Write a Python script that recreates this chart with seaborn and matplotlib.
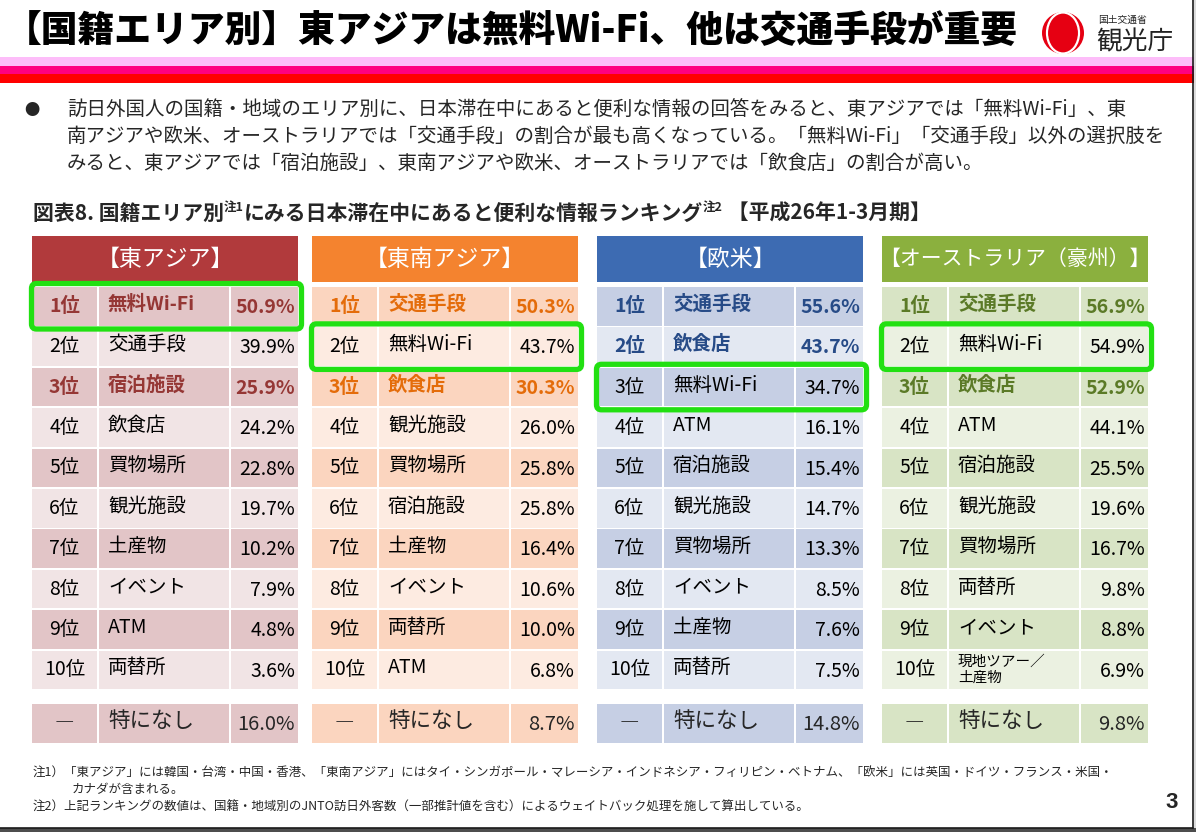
import numpy as np
import matplotlib
matplotlib.use("Agg")
import matplotlib.pyplot as plt
from matplotlib.patches import Circle, Ellipse, FancyBboxPatch, Rectangle
import seaborn as sns

sns.set_theme(style="white")
plt.rcParams['font.family'] = ['Noto Sans CJK JP', 'DejaVu Sans']

# ---- data ----
areas = ['【東アジア】', '【東南アジア】', '【欧米】', '【オーストラリア（豪州）】']
ranks = ['1位', '2位', '3位', '4位', '5位', '6位', '7位', '8位', '9位', '10位']

ea_items = ['無料Wi-Fi', '交通手段', '宿泊施設', '飲食店', '買物場所', '観光施設', '土産物', 'イベント', 'ATM', '両替所']
ea_vals = [50.9, 39.9, 25.9, 24.2, 22.8, 19.7, 10.2, 7.9, 4.8, 3.6]
ea_none = 16.0

sea_items = ['交通手段', '無料Wi-Fi', '飲食店', '観光施設', '買物場所', '宿泊施設', '土産物', 'イベント', '両替所', 'ATM']
sea_vals = [50.3, 43.7, 30.3, 26.0, 25.8, 25.8, 16.4, 10.6, 10.0, 6.8]
sea_none = 8.7

eu_items = ['交通手段', '飲食店', '無料Wi-Fi', 'ATM', '宿泊施設', '観光施設', '買物場所', 'イベント', '土産物', '両替所']
eu_vals = [55.6, 43.7, 34.7, 16.1, 15.4, 14.7, 13.3, 8.5, 7.6, 7.5]
eu_none = 14.8

au_items = ['交通手段', '無料Wi-Fi', '飲食店', 'ATM', '宿泊施設', '観光施設', '買物場所', '両替所', 'イベント', '現地ツアー／\n土産物']
au_vals = [56.9, 54.9, 52.9, 44.1, 25.5, 19.6, 16.7, 9.8, 8.8, 6.9]
au_none = 9.8

bold_rows = [[0, 2], [0, 2], [0, 1], [0, 2]]

# header, dark band, light band, emphasis text
palettes = [
    ('#B13A3C', '#E2C5C7', '#F1E4E5', '#953735'),
    ('#F4832F', '#FBD5BF', '#FDEBE1', '#E46C0A'),
    ('#3D6BB2', '#C6CFE4', '#E3E8F2', '#274B87'),
    ('#8BB03E', '#D8E4C5', '#EBF1E1', '#5B7A27'),
]

items_all = [ea_items, sea_items, eu_items, au_items]
vals_all = [ea_vals, sea_vals, eu_vals, au_vals]
none_all = [ea_none, sea_none, eu_none, au_none]

# ---- layout (pixels) ----
W, H = 1196, 832
panel_left = [32, 312, 597, 882]
panel_w = 266
col_left = [0, 67, 199]
col_w = [65, 130, 67]
pitch = 40.4
row0_c = 306.25          # centre of first row
row_h = 38.5 / pitch
top_px, bot_px = 236, 743
none_y = (723.5 - row0_c) / pitch
head_y = (259 - row0_c) / pitch
head_h = 46 / pitch
head_fs = [16.5, 16.5, 16.5, 15]
green = '#22E012'

fig = plt.figure(figsize=(W / 100, H / 100), dpi=100)
ax0 = fig.add_axes([0, 0, 1, 1])
ax0.set_xlim(0, W)
ax0.set_ylim(H, 0)
ax0.axis('off')

# top band
ax0.axhspan(57, 65.5, color='#FDBDF9', lw=0)
ax0.axhspan(65.5, 74, color='#FF0080', lw=0)
ax0.axhspan(74, 82.5, color='#FF0000', lw=0)

ax0.text(5, 31, '【国籍エリア別】東アジアは無料Wi-Fi、他は交通手段が重要',
         fontsize=26.5, weight='heavy', va='center', ha='left', color='black')

# logo
ax0.add_patch(Circle((1063, 33), 21, color='#E60012', lw=0))
ax0.add_patch(Ellipse((1063, 33), 32, 41, fill=False, ec='white', lw=1.6))
ax0.add_patch(Circle((1063, 33), 14.5, color='#E60012', lw=0))
ax0.text(1098, 20, '国土交通省', fontsize=7, va='center', ha='left', color='#222222')
ax0.text(1096, 42, '観光庁', fontsize=18.5, va='center', ha='left', color='#222222')

# bullet text
ax0.text(32, 110, '●', fontsize=11, va='center', ha='center')
lines = ['訪日外国人の国籍・地域のエリア別に、日本滞在中にあると便利な情報の回答をみると、東アジアでは「無料Wi-Fi」、東',
         '南アジアや欧米、オーストラリアでは「交通手段」の割合が最も高くなっている。「無料Wi-Fi」「交通手段」以外の選択肢を',
         'みると、東アジアでは「宿泊施設」、東南アジアや欧米、オーストラリアでは「飲食店」の割合が高い。']
for k, s in enumerate(lines):
    ax0.text(67, 110 + 26.5 * k, s, fontsize=14, va='center', ha='left')

# subtitle with superscripts
renderer = fig.canvas.get_renderer()
pieces = [('図表8. 国籍エリア別', 15, 0), ('注1', 9, -8), ('にみる日本滞在中にあると便利な情報ランキング', 15, 0),
          ('注2', 9, -8), (' 【平成26年1-3月期】', 15, 0)]
x = 33
for s, fs, dy in pieces:
    t = ax0.text(x, 220 + dy, s, fontsize=fs, weight='bold', va='baseline', ha='left')
    x = t.get_window_extent(renderer).x1

# panels
for p in range(4):
    L = panel_left[p]
    hc, dark, light, emph = palettes[p]
    ax = fig.add_axes([L / W, 1 - bot_px / H, panel_w / W, (bot_px - top_px) / H])
    ax.set_xlim(0, panel_w)
    ax.set_ylim((bot_px - row0_c) / pitch, (top_px - row0_c) / pitch)
    ax.axis('off')

    ax.barh(head_y, panel_w, left=0, height=head_h, color=hc, lw=0)
    ax.text(panel_w / 2, head_y, areas[p], color='white', fontsize=head_fs[p], ha='center', va='center')

    ys = np.arange(len(ranks))
    band = [dark if i % 2 == 0 else light for i in ys]
    for cl, cw in zip(col_left, col_w):
        ax.barh(ys, cw, left=cl, height=row_h, color=band, lw=0)
        ax.barh(none_y, cw, left=cl, height=row_h, color=dark, lw=0)

    for i, (r, it, v) in enumerate(zip(ranks, items_all[p], vals_all[p])):
        b = i in bold_rows[p]
        c = emph if b else 'black'
        w = 'bold' if b else 'normal'
        ax.text(32.5, i, r, ha='center', va='center', fontsize=14, color=c, weight=w)
        if '\n' in it:
            ax.text(76, i, it, ha='left', va='center', fontsize=10.5, color=c, weight=w, linespacing=1.15)
        else:
            ax.text(76, i - 0.05, it, ha='left', va='center', fontsize=14, color=c, weight=w)
        ax.text(263, i + 0.03, f'{v:.1f}%', ha='right', va='center', fontsize=14, color=c, weight=w)

    ax.text(32.5, none_y, '―', ha='center', va='center', fontsize=14)
    ax.text(76, none_y - 0.05, '特になし', ha='left', va='center', fontsize=15.5)
    ax.text(263, none_y + 0.03, f'{none_all[p]:.1f}%', ha='right', va='center', fontsize=14.5)

    gi = items_all[p].index('無料Wi-Fi')
    pad_y = 3.5 / pitch
    box = FancyBboxPatch((-0.5, gi - row_h / 2 - pad_y), panel_w + 4, row_h + 2 * pad_y,
                         boxstyle='round,pad=0,rounding_size=5', mutation_aspect=1 / pitch,
                         fill=False, ec=green, lw=3.8, clip_on=False, zorder=5)
    ax.add_patch(box)

# footnotes
ax0.text(33, 773, '注1）「東アジア」には韓国・台湾・中国・香港、「東南アジア」にはタイ・シンガポール・マレーシア・インドネシア・フィリピン・ベトナム、「欧米」には英国・ドイツ・フランス・米国・',
         fontsize=9, va='center', ha='left')
ax0.text(72, 790, 'カナダが含まれる。', fontsize=9, va='center', ha='left')
ax0.text(33, 807, '注2）上記ランキングの数値は、国籍・地域別のJNTO訪日外客数（一部推計値を含む）によるウェイトバック処理を施して算出している。',
         fontsize=9, va='center', ha='left')
ax0.text(1172, 803, '3', fontsize=16, weight='bold', family='Liberation Sans', ha='center', va='center')

# slide frame
ax0.add_patch(Rectangle((1193.5, 0), 3, H, color='#DCDCDC', lw=0))
ax0.add_patch(Rectangle((0, 828), W, 4, color='#4D4D4D', lw=0))
ax0.plot([1192.5, 1192.5], [0, 827.5], color='#1A1A1A', lw=1.2)
ax0.plot([0, 1193], [827.5, 827.5], color='#1A1A1A', lw=1.2)

fig.savefig('out.png', dpi=100)
